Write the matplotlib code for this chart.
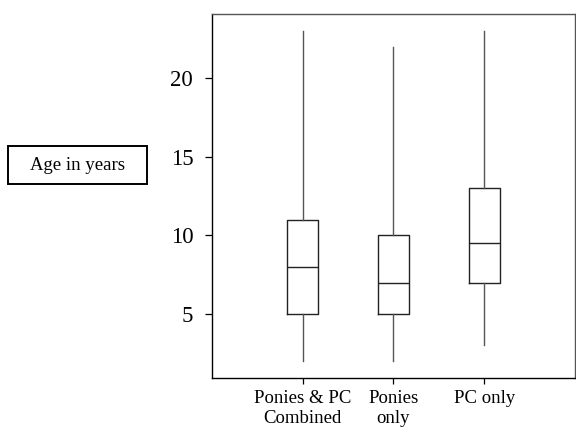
import matplotlib
matplotlib.use('Agg')
import matplotlib.pyplot as plt
from matplotlib.patches import Rectangle

plt.rcParams['font.family'] = ['Liberation Serif', 'DejaVu Serif']

groups = ['Ponies & PC\nCombined', 'Ponies\nonly', 'PC only']
whislo = [2, 2, 3]
q1 = [5, 5, 7]
med = [8, 7, 9.5]
q3 = [11, 10, 13]
whishi = [23, 22, 23]

stats = []
for i in range(len(groups)):
  stats.append({'label': groups[i], 'whislo': whislo[i], 'q1': q1[i], 'med': med[i],
                'q3': q3[i], 'whishi': whishi[i], 'fliers': []})

fig = plt.figure(figsize=(5.76, 4.3), dpi=100)
ax = fig.add_axes([0.368, 0.121, 0.63, 0.846])
ax.bxp(stats, positions=[1, 2, 3], widths=0.34, showcaps=False, showfliers=False,
       boxprops=dict(color='#222222', linewidth=1.0),
       medianprops=dict(color='#222222', linewidth=1.0),
       whiskerprops=dict(color='#555555', linewidth=1.0))

ax.set_xlim(0, 4)
ax.set_ylim(0.93, 24.07)
ax.set_yticks([5, 10, 15, 20])
ax.tick_params(axis='y', labelsize=16.5, direction='out', length=5, width=0.9, pad=8.5)
ax.tick_params(axis='x', labelsize=13.5, direction='out', length=4, width=0.9, pad=5)
for s in ax.spines.values():
  s.set_linewidth(1.0)
ax.spines['top'].set_color('#555555')
ax.spines['right'].set_color('#555555')

# side label box
fig.patches.append(Rectangle((0.0139, 0.572), 0.241, 0.088, transform=fig.transFigure,
                             facecolor='white', edgecolor='black', linewidth=1.4))
fig.text(0.1345, 0.616, 'Age in years', fontsize=13.5, ha='center', va='center')

fig.savefig('out.png', dpi=100)
